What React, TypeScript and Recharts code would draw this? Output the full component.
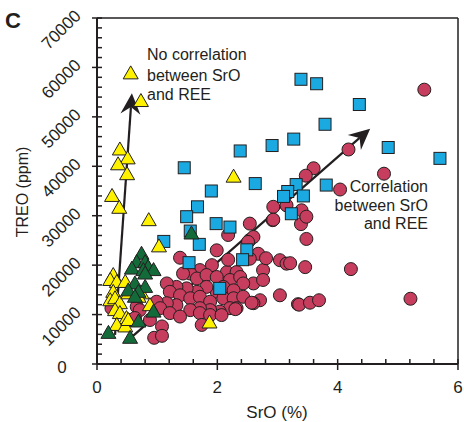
import React from "react";
import {
  Customized,
  ReferenceLine,
  Scatter,
  ScatterChart,
  XAxis,
  YAxis,
} from "recharts";

// SrO (%) vs TREO (ppm), one array of [x, y] per sample group.
const redCircles: [number, number][] = [
  [2.54, 28400], [2.92, 29100], [1.38, 21500], [1.99, 23000], [1.91, 20000],
  [2.16, 18600], [2.32, 18600], [2.54, 25100], [2.6, 25700], [2.68, 22300],
  [2.54, 21300], [2.76, 19000], [2.6, 16300], [2.76, 17000], [3.04, 21000],
  [3.15, 20300], [3.04, 13900], [1.71, 19000], [1.55, 18300], [1.43, 18300],
  [1.66, 17300], [1.82, 18000], [1.99, 17600], [2.21, 17000], [2.38, 17600],
  [2.43, 16300], [2.1, 15600], [2.27, 14900], [1.99, 14600], [1.82, 15600],
  [1.66, 14600], [1.49, 15300], [1.32, 15600], [1.16, 16300], [1.21, 14600],
  [1.38, 13900], [1.55, 13300], [1.71, 13600], [1.88, 12600], [2.1, 13300],
  [2.27, 13300], [2.43, 13600], [2.71, 12900], [2.6, 12300], [2.21, 11300],
  [2.04, 10600], [1.88, 10900], [1.71, 11300], [1.55, 10900], [1.32, 11900],
  [1.16, 12300], [0.99, 12600], [1.05, 11300], [1.21, 10300], [1.38, 9600],
  [1.71, 10300], [1.88, 9900], [2.07, 9900], [2.32, 11300], [0.66, 11600],
  [0.71, 10900], [0.55, 8900], [0.88, 8900], [1.08, 7600], [0.95, 5300],
  [1.08, 5700], [1.74, 7900], [3.21, 20400], [3.34, 12100], [2.57, 12400],
  [2.3, 11100], [2.81, 21400], [3.39, 28300], [3.48, 25300], [3.46, 19600],
  [4.22, 19200], [3.36, 12000], [3.54, 12400], [3.69, 12900], [5.21, 13200],
  [5.44, 55500], [4.18, 43400], [3.6, 39600], [3.47, 38100], [4.77, 38500],
  [4.04, 35300], [3.4, 31100], [3.48, 29800], [2.93, 31800], [2.93, 29200],
  [3.15, 32100], [2.18, 26100], [2.18, 21100], [2.51, 24700], [0.24, 11300],
  [0.63, 9300],
];

const blueSquares: [number, number][] = [
  [3.39, 57600], [3.65, 56700], [4.36, 52500], [3.79, 48500], [4.84, 43800],
  [5.7, 41600], [3.27, 45500], [2.91, 44200], [2.38, 43100], [1.45, 39700],
  [2.63, 36500], [3.81, 36200], [1.9, 35000], [3.31, 36300], [3.43, 34000],
  [3.17, 34900], [3.1, 33900], [1.67, 31800], [1.49, 29800], [3.23, 30400],
  [1.98, 28400], [2.21, 27700], [1.55, 26900], [1.11, 24800], [1.7, 24200],
  [2.49, 23100], [2.42, 21100], [1.53, 20500], [2.04, 15300],
];

const yellowTriangles: [number, number][] = [
  [0.56, 58800], [0.73, 53200], [0.38, 43400], [0.51, 41600], [0.35, 40400],
  [0.5, 38400], [0.25, 34000], [0.37, 31600], [0.86, 29100], [2.27, 37900],
  [1.03, 23800], [0.27, 18000], [0.22, 17000], [0.33, 16600], [0.47, 16600],
  [0.27, 14600], [0.22, 12900], [0.3, 13300], [0.38, 12300], [0.3, 10900],
  [0.38, 10300], [0.49, 9300], [0.33, 7900], [0.47, 7600], [0.52, 8900],
  [0.88, 11900], [0.74, 14300], [0.69, 13600], [0.52, 14300], [1.87, 8400],
];

const greenTriangles: [number, number][] = [
  [0.74, 22300], [0.66, 20600], [0.8, 20600], [0.85, 19600], [0.58, 19300],
  [0.77, 19000], [0.94, 19000], [0.8, 18300], [0.63, 16300], [0.8, 15600],
  [0.52, 14900], [0.69, 14600], [0.63, 13600], [0.94, 10600], [0.69, 8600],
  [0.19, 6300], [0.55, 5300], [1.57, 26400],
];

// trend arrows, [start, end] in data units
const noCorrelationArrow: [number, number][] = [[0.3, 5900], [0.58, 54800]];
const correlationArrow: [number, number][] = [[0.58, 5500], [4.54, 47600]];

const xTicks = [0, 0.4, 0.8, 1.2, 1.6, 2, 2.4, 2.8, 3.2, 3.6, 4, 4.4, 4.8, 5.2, 5.6, 6];
const yTicks = Array.from({ length: 36 }, (_, i) => i * 2000);

const FONT = '"Liberation Sans", Arial, Helvetica, sans-serif';
const INK = "#231f20";
const RED = "#c63d5d";
const BLUE = "#1aa9e1";
const YELLOW = "#fff200";
const GREEN = "#146b3a";

const toRows = (pts: [number, number][]) => pts.map(([sro, treo]) => ({ sro, treo }));

const CircleMark = (p: any) => (
  <circle cx={p.cx} cy={p.cy} r={6.5} fill={RED} stroke={INK} strokeWidth={1} />
);

const SquareMark = (p: any) => (
  <rect x={p.cx - 6} y={p.cy - 6} width={12} height={12} fill={BLUE} stroke={INK} strokeWidth={1} />
);

const triangleMark = (fill: string) => (p: any) => (
  <polygon
    points={`${p.cx},${p.cy - 7.5} ${p.cx - 7.5},${p.cy + 5.5} ${p.cx + 7.5},${p.cy + 5.5}`}
    fill={fill}
    stroke={INK}
    strokeWidth={1}
    strokeLinejoin="round"
  />
);

function ArrowShape(p: any) {
  const { x1, y1, x2, y2 } = p;
  const dx = x2 - x1;
  const dy = y2 - y1;
  const len = Math.hypot(dx, dy) || 1;
  const ux = dx / len;
  const uy = dy / len;
  const nx = -uy;
  const ny = ux;
  const head = 21;
  const half = 10;
  const notch = 14;
  const bx = x2 - ux * head;
  const by = y2 - uy * head;
  const pts = [
    [x2, y2],
    [bx + nx * half, by + ny * half],
    [x2 - ux * notch, y2 - uy * notch],
    [bx - nx * half, by - ny * half],
  ]
    .map((q) => q.join(","))
    .join(" ");
  return (
    <g>
      <line x1={x1} y1={y1} x2={x2 - ux * notch} y2={y2 - uy * notch} stroke={INK} strokeWidth={2.2} />
      <polygon points={pts} fill={INK} />
    </g>
  );
}

function XTick({ x, y, payload }: any) {
  const v = payload.value;
  const major = Math.abs(v / 2 - Math.round(v / 2)) < 1e-6;
  return (
    <g>
      <line x1={x} x2={x} y1={y - 5} y2={y + (major ? 6 : 0)} stroke={INK} strokeWidth={1.5} />
      {major && (
        <text x={x} y={y + 29} textAnchor="middle" fontSize={17} fontFamily={FONT} fill={INK}>
          {Math.round(v)}
        </text>
      )}
    </g>
  );
}

function YTick({ x, y, payload }: any) {
  const v = payload.value;
  const major = v % 10000 === 0;
  const cx = x - 36;
  const cy = y + 11.5;
  return (
    <g>
      <line x1={x - (major ? 5 : 0)} x2={x + 5} y1={y} y2={y} stroke={INK} strokeWidth={1.5} />
      {major &&
        (v === 0 ? (
          <text x={x - 35} y={y + 8.5} textAnchor="middle" fontSize={17} fontFamily={FONT} fill={INK}>
            0
          </text>
        ) : (
          <text
            x={cx}
            y={cy}
            dy="0.35em"
            transform={`rotate(-45 ${cx} ${cy})`}
            textAnchor="middle"
            fontSize={17}
            fontFamily={FONT}
            fill={INK}
          >
            {v}
          </text>
        ))}
    </g>
  );
}

function Annotations() {
  const t = { fontFamily: FONT, fontSize: 16, fill: INK };
  return (
    <g>
      <text x={5} y={28} fontFamily={FONT} fontSize={22} fontWeight="bold" fill={INK}>
        C
      </text>
      <text x={147} y={60} {...t}>No correlation</text>
      <text x={147} y={81} {...t}>between SrO</text>
      <text x={147} y={100} {...t}>and REE</text>
      <text x={428} y={192} textAnchor="end" {...t}>Correlation</text>
      <text x={428} y={211} textAnchor="end" {...t}>between SrO</text>
      <text x={428} y={229} textAnchor="end" {...t}>and REE</text>
      <text x={277} y={418} textAnchor="middle" fontFamily={FONT} fontSize={17} fill={INK}>
        SrO (%)
      </text>
      <text
        x={22}
        y={192}
        dy="0.35em"
        transform="rotate(-90 22 192)"
        textAnchor="middle"
        fontFamily={FONT}
        fontSize={16}
        fill={INK}
      >
        TREO (ppm)
      </text>
    </g>
  );
}

const seg = (a: [number, number][]) => [
  { x: a[0][0], y: a[0][1] },
  { x: a[1][0], y: a[1][1] },
];

export default function App() {
  return (
    <div style={{ position: "absolute", left: 0, top: 0, width: 464, height: 422, background: "#fff" }}>
      <ScatterChart width={464} height={422} margin={{ top: 18, right: 6, bottom: 0, left: 0 }}>
        <XAxis
          type="number"
          dataKey="sro"
          domain={[0, 6]}
          ticks={xTicks}
          interval={0}
          height={58}
          tickSize={0}
          tickMargin={0}
          tickLine={false}
          axisLine={{ stroke: INK, strokeWidth: 2 }}
          tick={<XTick />}
        />
        <YAxis
          type="number"
          dataKey="treo"
          domain={[0, 70000]}
          ticks={yTicks}
          interval={0}
          width={97}
          tickSize={0}
          tickMargin={0}
          tickLine={false}
          axisLine={{ stroke: INK, strokeWidth: 2 }}
          tick={<YTick />}
        />
        <ReferenceLine y={70000} stroke={INK} strokeWidth={1.5} />
        <ReferenceLine x={6} stroke={INK} strokeWidth={1.5} />
        <Scatter data={toRows(redCircles)} shape={CircleMark} isAnimationActive={false} />
        <Scatter data={toRows(blueSquares)} shape={SquareMark} isAnimationActive={false} />
        <ReferenceLine segment={seg(correlationArrow)} shape={ArrowShape} ifOverflow="visible" />
        <ReferenceLine segment={seg(noCorrelationArrow)} shape={ArrowShape} ifOverflow="visible" />
        <Scatter data={toRows(yellowTriangles)} shape={triangleMark(YELLOW)} isAnimationActive={false} />
        <Scatter data={toRows(greenTriangles)} shape={triangleMark(GREEN)} isAnimationActive={false} />
        <Customized component={Annotations} />
      </ScatterChart>
    </div>
  );
}
